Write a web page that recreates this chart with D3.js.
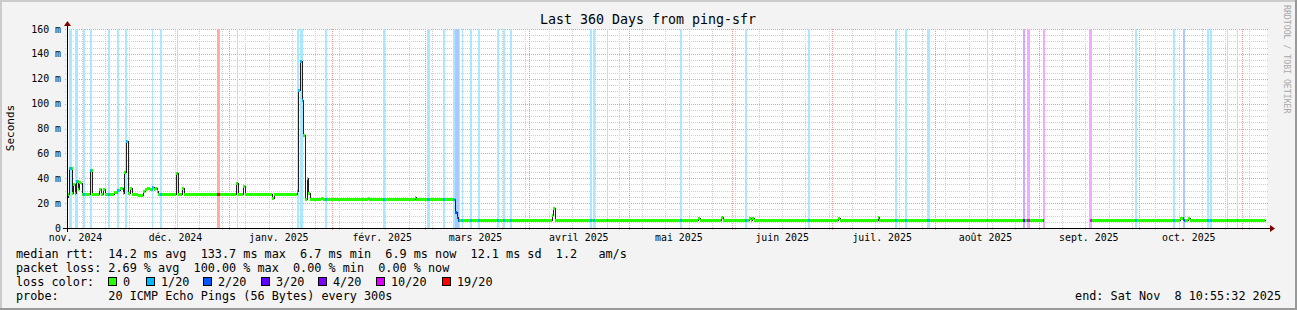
<!DOCTYPE html>
<html><head><meta charset="utf-8">
<script src="https://cdn.jsdelivr.net/npm/d3@7"></script>
<style>
html,body{margin:0;padding:0;background:#f3f3f3;}
svg text{font-family:"DejaVu Sans Mono",monospace;white-space:pre;}
</style></head>
<body>
<svg id="chart" width="1297" height="310"></svg>
<script>
// ---------- DATA ----------
const endTime = Date.UTC(2025, 10, 8, 10, 55, 32);
const spanDays = 360;
const title = "Last 360 Days from ping-sfr";
const yTicks = [0, 20, 40, 60, 80, 100, 120, 140, 160];
const yTickLabels = ["0", "20 m", "40 m", "60 m", "80 m", "100 m", "120 m", "140 m", "160 m"];
const monthLabels = ["nov. 2024", "déc. 2024", "janv. 2025", "févr. 2025", "mars 2025", "avril 2025",
  "mai 2025", "juin 2025", "juil. 2025", "août 2025", "sept. 2025", "oct. 2025"];

// median rtt (ms), step series: day offset from start -> value (null = no data)
const medianDays = [0, 0.3, 0.6, 1.5, 1.8, 2.4, 2.7, 3.3, 3.6, 4.2, 4.5, 6.9, 7.6, 9.6, 10.2, 10.8, 11.4,
  14.1, 15, 15.9, 16.8, 17.2, 17.7, 18.2, 18.9, 19.4, 21.3, 22.8, 23.4, 24, 24.9, 25.5, 26, 26.4, 26.9, 27.3,
  32.7, 33.3, 34.5, 35.1, 50.7, 51.3, 52.8, 53.4, 61.5, 62, 69, 69.4, 69.9, 70.4, 70.9, 71.4, 71.9, 72.4, 72.9,
  76.2, 76.7, 90.2, 90.6, 104.3, 104.7, 116.4, 116.9, 117.4, 145.4, 145.9, 146.4,
  189.3, 189.8, 196.2, 196.7, 204.6, 205.1, 205.5, 206, 231.3, 231.8, 243.2, 243.6, 292.8,
  306.8, 333.9, 334.8, 335.1, 336.3, 336.8, 359.4];
const medianValues = [25, 27.5, 48, 28, 35, 28.5, 38, 31, 37, 36, 27.5, 47, 27.5, 31, 27.5, 31, 27.5,
  29, 30.5, 32, 28, 45, 70, 28, 32, 27.5, 26.5, 30, 31, 32, 31, 33, 31, 32, 29.5, 27.5,
  44.5, 27.5, 32, 27.5, 36, 27.5, 34, 27.5, 24, 27.5, 30, 111, 134, 103, 75, 23.5, 40, 28, 23.5,
  24.5, 23.5, 24.5, 23.5, 25, 23.5, 13, 8.5, 6.8, 10.5, 16, 6.8,
  7.8, 6.8, 8.5, 6.8, 7.8, 6.8, 8.2, 6.8, 7.8, 6.8, 9, 6.8, null,
  6.8, 8, 7.2, 6.8, 7.8, 6.8, 6.9];

// packet loss periods: start day, end day, loss level (x/20)
const lossStart = [0.7, 2.4, 4.7, 6.9, 12.2, 14.9, 17.4, 25.4, 27.9, 32.9, 45.1, 50.9, 69.1, 69.9, 77.4,
  94.9, 107.9, 112.9, 115.9, 116.4, 117.7, 118.4, 120.9, 123.2, 129.1, 130.7, 132.9, 156.9, 157.8, 161.9,
  183.9, 203.4, 222.2, 248.4, 251.4, 257.9, 275.9, 286.7, 288.1, 292.7, 306.7, 320.4, 331.7, 334.7,
  342.0, 342.9, 347.9, 350.9];
const lossEnd = [1.4, 3.2, 5.3, 7.5, 12.9, 15.7, 18.1, 25.9, 28.5, 33.4, 45.9, 51.4, 69.6, 70.9, 77.9,
  95.4, 108.9, 113.4, 116.4, 117.7, 117.9, 118.9, 121.4, 123.9, 129.5, 131.4, 133.5, 157.6, 158.4, 162.4,
  184.5, 204, 222.9, 249.1, 252, 258.9, 276.4, 287.4, 288.9, 293.4, 307.4, 321.1, 332.4, 335.4,
  342.5, 343.5, 348.3, 351.4];
const lossLevel = [1, 1, 1, 1, 1, 1, 1, 1, 1, 1, 19, 1, 1, 1, 1,
  1, 1, 1, 1, 2, 1, 1, 1, 1, 1, 1, 1, 1, 1, 1,
  1, 1, 1, 1, 1, 1, 1, 3, 10, 10, 10, 1, 1, 2,
  1, 1, 1, 1];

const legendLevels = [0, 1, 2, 3, 4, 10, 19];
const legendNames = ["0", "1/20", "2/20", "3/20", "4/20", "10/20", "19/20"];
const legendColors = ["#26ff00", "#00b8ff", "#0059ff", "#5e00ff", "#7e00ff", "#dd00ff", "#ff0000"];

const statsLine1 = "median rtt:  14.2 ms avg  133.7 ms max  6.7 ms min  6.9 ms now  12.1 ms sd  1.2   am/s";
const statsLine2 = "packet loss: 2.69 % avg  100.00 % max  0.00 % min  0.00 % now";
const probeLine = "probe:       20 ICMP Echo Pings (56 Bytes) every 300s";
const endLine = "end: Sat Nov  8 10:55:32 2025";

// ---------- DRAW ----------
const DAY = 86400000;
const startTime = endTime - spanDays * DAY;
const toDate = d => new Date(startTime + d * DAY);
const svg = d3.select("#chart");
const W = 1297, H = 310;
const x0 = 67, x1 = 1267, yTop = 29, yBot = 228;
const x = d3.scaleUtc().domain([new Date(startTime), new Date(endTime)]).range([x0, x1]);
const y = d3.scaleLinear().domain([0, 160]).range([yBot, yTop]);
const colorOf = lvl => legendColors[legendLevels.indexOf(lvl)];
const mixWhite = (c, a) => { const k = d3.rgb(c); return d3.rgb(255 - (255 - k.r) * a, 255 - (255 - k.g) * a, 255 - (255 - k.b) * a).toString(); };
const px = d => Math.round(x(toDate(d)));

// background & frame
svg.append("rect").attr("width", W).attr("height", H).attr("fill", "#f3f3f3");
svg.append("rect").attr("x", 0).attr("y", 0).attr("width", W).attr("height", 2).attr("fill", "#cbcbcb");
svg.append("rect").attr("x", 0).attr("y", 0).attr("width", 2).attr("height", H).attr("fill", "#cbcbcb");
svg.append("rect").attr("x", 0).attr("y", H - 2).attr("width", W).attr("height", 2).attr("fill", "#999");
svg.append("rect").attr("x", W - 2).attr("y", 0).attr("width", 2).attr("height", H).attr("fill", "#999");
svg.append("rect").attr("x", x0).attr("y", yTop).attr("width", x1 - x0).attr("height", yBot - yTop).attr("fill", "#fff");

// grid
const g = svg.append("g").attr("shape-rendering", "crispEdges");
const minorY = d3.range(0, 161, 5).filter(v => v % 20 !== 0);
g.selectAll(".hmin").data(minorY).join("line")
  .attr("x1", x0 - 2).attr("x2", x1 + 2).attr("y1", d => Math.round(y(d)) + 0.5).attr("y2", d => Math.round(y(d)) + 0.5)
  .attr("stroke", "#cfcfcf").attr("stroke-dasharray", "1,1");
const weeks = d3.utcMonday.range(new Date(startTime), new Date(endTime));
g.selectAll(".vmin").data(weeks).join("line")
  .attr("x1", d => Math.round(x(d)) + 0.5).attr("x2", d => Math.round(x(d)) + 0.5).attr("y1", yTop).attr("y2", yBot + 2)
  .attr("stroke", "#cfcfcf").attr("stroke-dasharray", "1,1");
const months = d3.utcMonth.range(new Date(startTime), new Date(endTime));
g.selectAll(".vmaj").data(months).join("line")
  .attr("x1", d => Math.round(x(d)) + 0.5).attr("x2", d => Math.round(x(d)) + 0.5).attr("y1", yTop).attr("y2", yBot + 2)
  .attr("stroke", "#ee9a9a").attr("stroke-dasharray", "1,1");
g.selectAll(".hmaj").data(yTicks.filter(v => v > 0)).join("line")
  .attr("x1", x0 - 2).attr("x2", x1 + 2).attr("y1", d => Math.round(y(d)) + 0.5).attr("y2", d => Math.round(y(d)) + 0.5)
  .attr("stroke", "#ee9a9a").attr("stroke-dasharray", "1,1");

// loss background bands
const losses = lossStart.map((s, i) => ({ s, e: lossEnd[i], lvl: lossLevel[i] }));
svg.append("g").attr("shape-rendering", "crispEdges").selectAll("rect").data(losses).join("rect")
  .attr("x", d => px(d.s)).attr("width", d => Math.max(1, px(d.e) - px(d.s)))
  .attr("y", yTop).attr("height", yBot - yTop)
  .attr("fill", d => mixWhite(colorOf(d.lvl), 0.33));

// median black step line (pixel snapped)
const med = medianDays.map((d, i) => ({ d, v: medianValues[i] }));
const line = d3.line().defined(p => p.v !== null).x(p => px(p.d) + 0.5).y(p => Math.round(y(p.v)) + 0.5).curve(d3.curveStepAfter);
svg.append("path").datum(med).attr("d", line).attr("fill", "none").attr("stroke", "#202020")
  .attr("stroke-width", 1).attr("shape-rendering", "crispEdges");

// colored loss bars on the median
const lastDay = medianDays[medianDays.length - 1];
const breaks = Array.from(new Set([...medianDays, ...lossStart, ...lossEnd])).filter(d => d <= lastDay).sort((a, b) => a - b);
const medAt = t => { let v = null; for (let i = 0; i < medianDays.length; i++) { if (medianDays[i] <= t + 1e-9) v = medianValues[i]; else break; } return v; };
const lvlAt = t => { for (const l of losses) if (t >= l.s - 1e-9 && t < l.e - 1e-9) return l.lvl; return 0; };
const segs = [];
for (let i = 0; i < breaks.length - 1; i++) {
  const a = breaks[i], b = breaks[i + 1];
  const v = medAt(a);
  if (v === null) continue;
  segs.push({ a, b, v, lvl: lvlAt(a) });
}
svg.append("g").attr("shape-rendering", "crispEdges").selectAll("rect").data(segs).join("rect")
  .attr("x", s => px(s.a)).attr("width", s => Math.max(1, px(s.b) - px(s.a)))
  .attr("y", s => Math.round(y(s.v)) - 1).attr("height", 3)
  .attr("fill", s => colorOf(s.lvl));

// axes
const ax = svg.append("g").attr("shape-rendering", "crispEdges");
ax.append("line").attr("x1", x0 - 4).attr("x2", x1 + 3).attr("y1", yBot + 0.5).attr("y2", yBot + 0.5).attr("stroke", "#000");
ax.append("line").attr("x1", x0 + 0.5).attr("x2", x0 + 0.5).attr("y1", yBot + 4).attr("y2", yTop - 4).attr("stroke", "#000");
svg.append("path").attr("d", `M${x1 + 3},${yBot - 3}L${x1 + 8},${yBot + 0.5}L${x1 + 3},${yBot + 4}Z`).attr("fill", "#7f0000");
svg.append("path").attr("d", `M${x0 - 3},${yTop - 3}L${x0 + 0.5},${yTop - 8}L${x0 + 4},${yTop - 3}Z`).attr("fill", "#7f0000");

// y labels
svg.append("g").selectAll("text").data(yTicks).join("text")
  .attr("x", 61).attr("y", d => y(d) + 3.5).attr("text-anchor", "end")
  .attr("font-size", "9.9px").attr("fill", "#000").text((d, i) => yTickLabels[i]);
// x labels (centered mid-month)
svg.append("g").selectAll("text").data(monthLabels).join("text")
  .attr("x", (d, i) => x(new Date(d3.utcMonth.offset(d3.utcMonth.floor(new Date(startTime)), i).getTime() + 15 * DAY)))
  .attr("y", 241).attr("text-anchor", "middle").attr("font-size", "9.9px").attr("fill", "#000").text(d => d);

// axis title
svg.append("text").attr("transform", "translate(14,128) rotate(-90)").attr("text-anchor", "middle")
  .attr("font-size", "11px").text("Seconds");
// title
svg.append("text").attr("x", 648).attr("y", 24).attr("text-anchor", "middle").attr("font-size", "13.3px").text(title);
// watermark
svg.append("text").attr("transform", "translate(1284,5) rotate(90)").attr("font-size", "8.2px").attr("fill", "#a8a8a8").text("RRDTOOL / TOBI OETIKER");

// legend
const lf = "11.8px";
svg.append("text").attr("x", 16).attr("y", 258).attr("font-size", lf).text(statsLine1);
svg.append("text").attr("x", 16).attr("y", 272).attr("font-size", lf).text(statsLine2);
svg.append("text").attr("x", 16).attr("y", 286).attr("font-size", lf).text("loss color:");
const boxX = [108, 146, 203, 261, 318, 376, 442];
legendNames.forEach((n, i) => {
  svg.append("rect").attr("x", boxX[i] + 0.5).attr("y", 277.5).attr("width", 8).attr("height", 8)
    .attr("fill", legendColors[i]).attr("stroke", "#000");
  svg.append("text").attr("x", boxX[i] + 15).attr("y", 286).attr("font-size", lf).text(n);
});
svg.append("text").attr("x", 16).attr("y", 300).attr("font-size", lf).text(probeLine);
svg.append("text").attr("x", 1281).attr("y", 300).attr("text-anchor", "end").attr("font-size", lf).text(endLine);
</script>
</body></html>
